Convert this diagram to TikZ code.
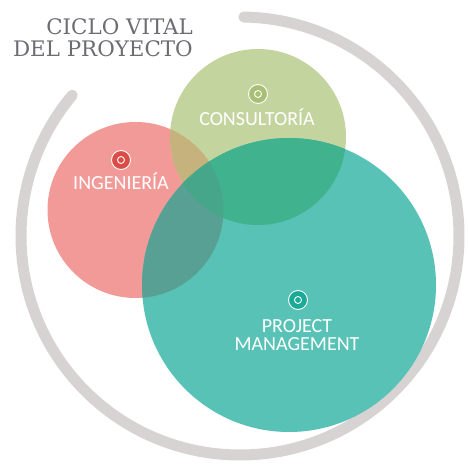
\documentclass[tikz,border=0pt]{standalone}
\usepackage{fontspec}
\setmainfont{Carlito}
\newfontfamily\titlefont{DejaVu Serif}
\usetikzlibrary{positioning}

\definecolor{ringgray}{RGB}{215,211,211}
\definecolor{titlegray}{RGB}{108,109,115}
\definecolor{ingcol}{RGB}{242,154,152}
\definecolor{concol}{RGB}{196,212,159}
\definecolor{pmcol}{RGB}{87,194,181}
\definecolor{ingcon}{RGB}{197,178,125}
\definecolor{ingpm}{RGB}{88,160,148}
\definecolor{conpm}{RGB}{64,178,142}
\definecolor{allthree}{RGB}{70,166,137}
\definecolor{ingdot}{RGB}{220,76,70}
\definecolor{condot}{RGB}{168,192,118}
\definecolor{pmdot}{RGB}{26,170,152}

\begin{document}
\begin{tikzpicture}[x=1pt,y=1pt,
  lbl/.style={text=white,font=\fontsize{20}{21}\selectfont,inner sep=0pt},
  ttl/.style={text=titlegray,font=\titlefont\fontsize{21.4}{23}\selectfont,inner sep=0pt,anchor=base east},
  dotring/.style={draw=white,line width=0.9pt}]

\useasboundingbox (0,0) rectangle (467,471);

% the big ring
\coordinate (mid) at (240,235);
\draw[ringgray,line width=11pt,line cap=round] (mid) ++(89:219) arc (89:-220:219);

% circle centres
\coordinate (ing) at (135.5,261);
\coordinate (con) at (258,334);
\coordinate (pm) at (289,186);

\fill[ingcol] (ing) circle (88);
\fill[concol] (con) circle (88);
\fill[pmcol] (pm) circle (147);

% overlaps
\begin{scope}
  \clip (ing) circle (88);
  \fill[ingcon] (con) circle (88);
  \fill[ingpm] (pm) circle (147);
\end{scope}
\begin{scope}
  \clip (con) circle (88);
  \fill[conpm] (pm) circle (147);
  \clip (ing) circle (88);
  \fill[allthree] (pm) circle (147);
\end{scope}

% small icons
\fill[ingdot,dotring] (121,311) circle (9.5);
\draw[dotring] (121,311) circle (3.5);
\fill[condot,dotring] (258,377) circle (9.5);
\draw[dotring] (258,377) circle (3.5);
\fill[pmdot,dotring] (298,171) circle (9.5);
\draw[dotring] (298,171) circle (3.5);

% labels
\node[lbl,anchor=base] (ingtxt) at (121,281.7) {INGENIERÍA};
\node[lbl,anchor=base] (context) at (257,345) {CONSULTORÍA};
\node[lbl,anchor=base] (pmtxt1) at (297,138.3) {PROJECT};
\node[lbl,anchor=base] (pmtxt2) at (297,120) {MANAGEMENT};

% title
\node[ttl] (title1) at (193,436) {CICLO VITAL};
\node[ttl] (title2) at (193,414) {DEL PROYECTO};

\end{tikzpicture}
\end{document}
